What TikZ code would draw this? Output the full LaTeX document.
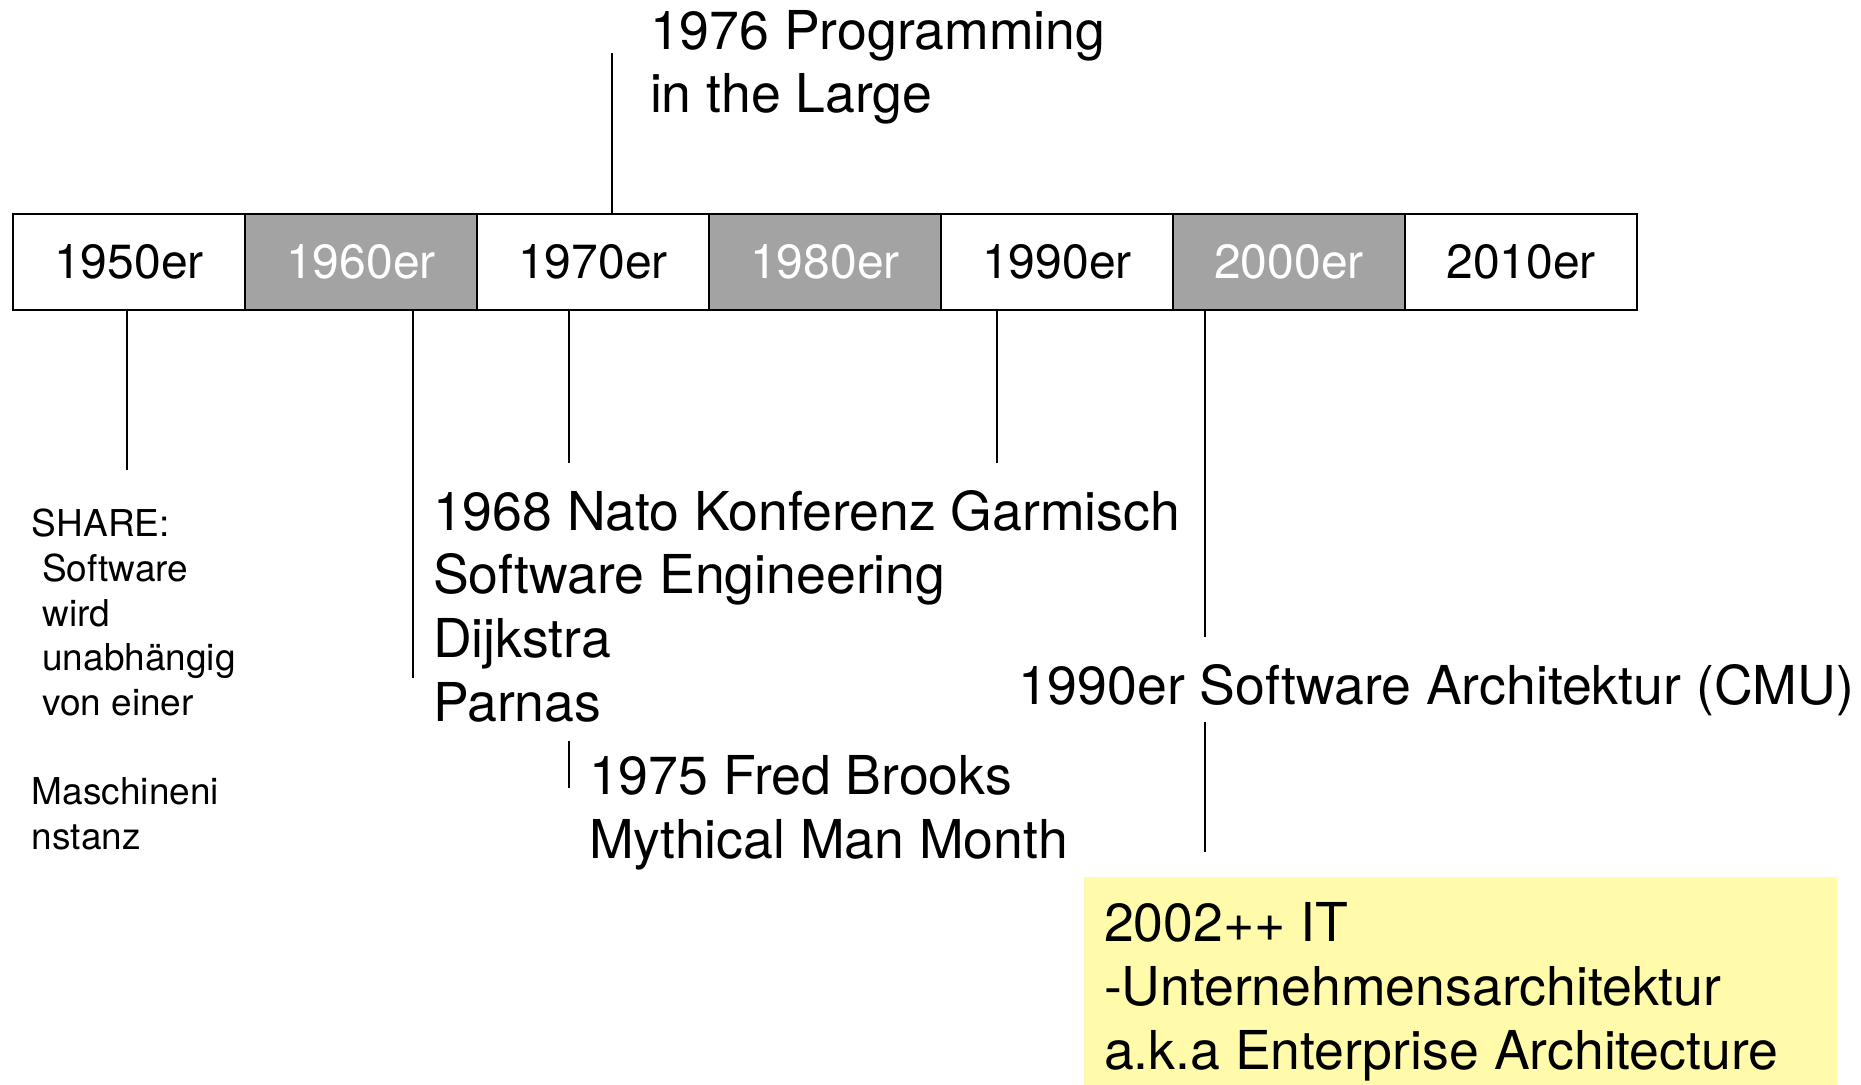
\documentclass[tikz,border=0pt]{standalone}
\usepackage{fontspec}
\setmainfont{TeX Gyre Heros}
\usetikzlibrary{positioning}
\definecolor{decadegray}{RGB}{163,163,163}
\definecolor{eayellow}{RGB}{255,251,171}
\begin{document}
\begin{tikzpicture}[x=0.5pt,y=-0.5pt]
    \tikzstyle{every node}+=[inner sep=0pt, outer sep=0pt]
    \tikzstyle{decade}=[draw=black, line width=1.2pt, minimum width=116pt, minimum height=48pt, font=\fontsize{24}{28}\selectfont]
    \tikzstyle{decadedark}=[decade, fill=decadegray, text=white]
    \tikzstyle{eventtext}=[anchor=base west, align=left, font=\fontsize{26.8}{31.8}\selectfont]
    \tikzstyle{eventsmall}=[eventtext, font=\fontsize{18.5}{22.3}\selectfont]
    \tikzstyle{eventline}=[black, line width=0.8pt]
    \useasboundingbox (0,0) rectangle (1861,1085);
    \node [decade] (c1950) at (129,262) {1950er};
    \node [decadedark, right=0pt of c1950] (c1960) {1960er};
    \node [decade, right=0pt of c1960] (c1970) {1970er};
    \node [decadedark, right=0pt of c1970] (c1980) {1980er};
    \node [decade, right=0pt of c1980] (c1990) {1990er};
    \node [decadedark, right=0pt of c1990] (c2000) {2000er};
    \node [decade, right=0pt of c2000] (c2010) {2010er};
    % multi-line texts sit on the baseline of their last line
    \node [eventtext] (t1976) at (650,113) {1976 Programming\\in the Large};
    \coordinate (e1976) at (612,53);
    \draw [eventline] (c1970.north -| e1976) -- (e1976);
    \node [eventsmall] (share) at (32,849) {SHARE:\\\hspace*{.278em}Software\\\hspace*{.278em}wird\\\hspace*{.278em}unabhängig\\\hspace*{.278em}von einer\\[22.3pt]Maschineni\\nstanz};
    \coordinate (e1950) at (127,470);
    \draw [eventline] (c1950.south -| e1950) -- (e1950);
    \node [eventtext] (nato) at (433,721) {1968 Nato Konferenz Garmisch\\Software Engineering\\Dijkstra\\Parnas};
    \coordinate (e1960) at (413,678);
    \draw [eventline] (c1960.south -| e1960) -- (e1960);
    \coordinate (e1970) at (569,463);
    \draw [eventline] (c1970.south -| e1970) -- (e1970);
    \node [eventtext] (brooks) at (589,858) {1975 Fred Brooks\\Mythical Man Month};
    \coordinate (b1) at (569,741);
    \coordinate (b2) at (569,788);
    \draw [eventline] (b1) -- (b2);
    \coordinate (e1990) at (997,463);
    \draw [eventline] (c1990.south -| e1990) -- (e1990);
    \node [eventtext] (arch) at (1018,704) {1990er Software Architektur (CMU)};
    \coordinate (e2000) at (1205,637);
    \draw [eventline] (c2000.south -| e2000) -- (e2000);
    \coordinate (a1) at (1205,722);
    \coordinate (a2) at (1205,852);
    \draw [eventline] (a1) -- (a2);
    \fill [eayellow] (1084,877) rectangle (1837,1085);
    \node [eventtext] (ea) at (1104,1069) {2002++ IT\\-Unternehmensarchitektur\\a.k.a Enterprise Architecture};
\end{tikzpicture}
\end{document}
